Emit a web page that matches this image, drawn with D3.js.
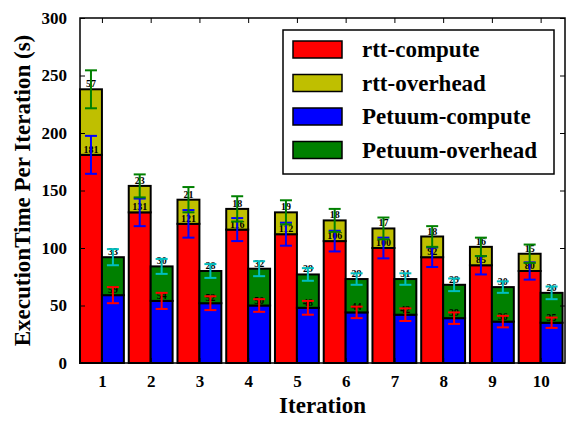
<!DOCTYPE html>
<html lang="en">
<head>
<meta charset="UTF-8">
<title>Execution time per iteration</title>
<script src="https://cdn.jsdelivr.net/npm/d3@7"></script>
<style>
  body { margin: 0; background: #fff; }
  svg { font-family: "Liberation Serif", "Times New Roman", serif; font-weight: bold; }
</style>
</head>
<body>
<div id="chart"></div>
<script>
  const iterations = [1, 2, 3, 4, 5, 6, 7, 8, 9, 10]
  const rttCompute = [181, 131, 121, 116, 112, 106, 100, 92, 85, 80]
  const rttOverhead = [57, 23, 21, 18, 19, 18, 17, 18, 16, 15]
  const petuumCompute = [59, 54, 52, 50, 48, 44, 42, 39, 36, 35]
  const petuumOverhead = [33, 30, 28, 32, 29, 29, 31, 29, 30, 26]
  // error half-widths
  const rttComputeErr = [16.5, 12, 12, 10, 10, 9, 9, 8.5, 8, 7.5]
  const rttTotalErr = [16.5, 10, 11, 11, 10.5, 10, 9.5, 9, 8, 8]
  const petuumComputeErr = [7, 7, 6, 5.5, 6, 5, 5.5, 5, 5, 4.5]
  const petuumTotalErr = [7, 6.5, 6, 6.5, 5.5, 5, 5, 5.5, 5, 5.5]
  const yTicks = [0, 50, 100, 150, 200, 250, 300]
  const legendLabels = ['rtt-compute', 'rtt-overhead', 'Petuum-compute', 'Petuum-overhead']
  const colors = ['#ff0000', '#bfbf00', '#0000ff', '#008000']

  const FONT = '"Liberation Serif", "Times New Roman", serif'
  const width = 566
  const height = 422
  const mLeft = 80, mRight = 565, mTop = 18, mBottom = 363
  const barW = 0.45

  const svg = d3.select('#chart').append('svg')
    .attr('width', width)
    .attr('height', height)

  const x = d3.scaleLinear().domain([-0.45, 9.5]).range([mLeft, mRight])
  const y = d3.scaleLinear().domain([0, 300]).range([mBottom, mTop])

  // stacked segments
  const segs = []
  iterations.forEach((it, i) => {
    segs.push({x0: i - barW, lo: 0, hi: rttCompute[i], c: colors[0]})
    segs.push({x0: i - barW, lo: rttCompute[i], hi: rttCompute[i] + rttOverhead[i], c: colors[1]})
    segs.push({x0: i, lo: 0, hi: petuumCompute[i], c: colors[2]})
    segs.push({x0: i, lo: petuumCompute[i], hi: petuumCompute[i] + petuumOverhead[i], c: colors[3]})
  })

  svg.append('g').selectAll('rect')
    .data(segs)
    .join('rect')
    .attr('x', d => x(d.x0))
    .attr('width', x(barW) - x(0))
    .attr('y', d => y(d.hi))
    .attr('height', d => y(d.lo) - y(d.hi))
    .attr('fill', d => d.c)
    .attr('stroke', '#000')
    .attr('stroke-width', 2)

  // value labels
  const labels = []
  iterations.forEach((it, i) => {
    labels.push({cx: i - barW / 2, v: rttCompute[i], at: rttCompute[i]})
    labels.push({cx: i - barW / 2, v: rttOverhead[i], at: rttCompute[i] + rttOverhead[i]})
    labels.push({cx: i + barW / 2, v: petuumCompute[i], at: petuumCompute[i]})
    labels.push({cx: i + barW / 2, v: petuumOverhead[i], at: petuumCompute[i] + petuumOverhead[i]})
  })
  svg.append('g').selectAll('text')
    .data(labels)
    .join('text')
    .attr('x', d => x(d.cx))
    .attr('y', d => y(d.at) - 2)
    .attr('text-anchor', 'middle')
    .attr('font-size', 10)
    .text(d => d.v)

  // error bars
  const errs = []
  iterations.forEach((it, i) => {
    errs.push({cx: i - barW / 2, v: rttCompute[i], e: rttComputeErr[i], c: '#0000ff'})
    errs.push({cx: i - barW / 2, v: rttCompute[i] + rttOverhead[i], e: rttTotalErr[i], c: '#008000'})
    errs.push({cx: i + barW / 2, v: petuumCompute[i], e: petuumComputeErr[i], c: '#ff0000'})
    errs.push({cx: i + barW / 2, v: petuumCompute[i] + petuumOverhead[i], e: petuumTotalErr[i], c: '#00bfbf'})
  })
  const eg = svg.append('g').selectAll('g')
    .data(errs)
    .join('g')
    .attr('stroke', d => d.c)
    .attr('stroke-width', 2)
  eg.append('line')
    .attr('x1', d => x(d.cx)).attr('x2', d => x(d.cx))
    .attr('y1', d => y(d.v - d.e)).attr('y2', d => y(d.v + d.e))
  eg.append('line')
    .attr('x1', d => x(d.cx) - 6).attr('x2', d => x(d.cx) + 6)
    .attr('y1', d => y(d.v - d.e)).attr('y2', d => y(d.v - d.e))
  eg.append('line')
    .attr('x1', d => x(d.cx) - 6).attr('x2', d => x(d.cx) + 6)
    .attr('y1', d => y(d.v + d.e)).attr('y2', d => y(d.v + d.e))

  // axes with inward ticks
  const styleAxis = g => g
    .attr('font-family', FONT)
    .attr('font-size', 17)
    .attr('font-weight', 'bold')
    .call(g => g.select('.domain').remove())
    .call(g => g.selectAll('text').attr('fill', '#000'))

  svg.append('g')
    .attr('transform', `translate(${mLeft},0)`)
    .call(d3.axisLeft(y).tickValues(yTicks).tickSize(-5).tickPadding(13))
    .call(styleAxis)
  svg.append('g')
    .attr('transform', `translate(${mRight},0)`)
    .call(d3.axisRight(y).tickValues(yTicks).tickSize(-5).tickFormat(''))
    .call(styleAxis)
  svg.append('g')
    .attr('transform', `translate(0,${mBottom})`)
    .call(d3.axisBottom(x).tickValues(d3.range(10)).tickSize(-5).tickPadding(12)
      .tickFormat(i => iterations[i]))
    .call(styleAxis)
  svg.append('g')
    .attr('transform', `translate(0,${mTop})`)
    .call(d3.axisTop(x).tickValues(d3.range(10)).tickSize(-5).tickFormat(''))
    .call(styleAxis)
  svg.selectAll('.tick line').attr('stroke', '#000').attr('stroke-width', 1)

  svg.append('rect')
    .attr('x', mLeft).attr('y', mTop)
    .attr('width', mRight - mLeft).attr('height', mBottom - mTop)
    .attr('fill', 'none').attr('stroke', '#000').attr('stroke-width', 1.5)

  // titles
  svg.append('text')
    .attr('x', (mLeft + mRight) / 2).attr('y', 413)
    .attr('text-anchor', 'middle')
    .attr('font-size', 23)
    .text('Iteration')
  svg.append('text')
    .attr('transform', `translate(30,${(mTop + mBottom) / 2}) rotate(-90)`)
    .attr('text-anchor', 'middle')
    .attr('font-size', 23)
    .text('ExecutionTime Per Iteration (s)')

  // legend
  const lg = svg.append('g').attr('transform', 'translate(283,30)')
  lg.append('rect')
    .attr('width', 271).attr('height', 144)
    .attr('fill', '#fff').attr('stroke', '#000').attr('stroke-width', 1.5)
  const item = lg.selectAll('g.item')
    .data(legendLabels)
    .join('g')
    .attr('class', 'item')
    .attr('transform', (d, i) => `translate(10,${11 + i * 33.5})`)
  item.append('rect')
    .attr('width', 49).attr('height', 17)
    .attr('fill', (d, i) => colors[i])
    .attr('stroke', '#000').attr('stroke-width', 1.5)
  item.append('text')
    .attr('x', 69).attr('y', 16)
    .attr('font-size', 23)
    .text(d => d)
</script>
</body>
</html>
